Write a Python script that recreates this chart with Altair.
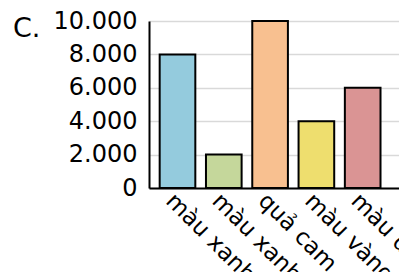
import altair as alt
import pandas as pd

categories = ["màu xanh dương", "màu xanh lá", "quả cam", "màu vàng", "màu đỏ"]
values = [8000, 2000, 10000, 4000, 6000]
colors = ["#94CBDD", "#C5D79B", "#F8C090", "#EEDE6E", "#DA9494"]
y_ticks = [0, 2000, 4000, 6000, 8000, 10000]

FONT = "DejaVu Sans"

df = pd.DataFrame({"cat": categories, "val": values})

chart = alt.Chart(df).mark_bar(stroke="black", strokeWidth=2).encode(
    x=alt.X(
        "cat:N", sort=categories, title=None,
        scale=alt.Scale(paddingInner=0.23, paddingOuter=0.315, align=0.366),
        axis=alt.Axis(labelAngle=45, labelFontSize=23, labelFont=FONT,
                      labelColor="black", ticks=False, domainColor="black",
                      domainWidth=2, labelPadding=1, labelLimit=0,
                      labelOverlap=False),
    ),
    y=alt.Y(
        "val:Q", title=None,
        scale=alt.Scale(domain=[0, 10000], nice=False),
        axis=alt.Axis(values=y_ticks,
                      labelExpr="replace(format(datum.value, ','), ',', '.')",
                      labelFontSize=24, labelFont=FONT, labelColor="black",
                      ticks=False, domainColor="black", domainWidth=2,
                      labelPadding=12, grid=True, gridColor="#d9d9d9", gridWidth=1.5,
                      labelOverlap=False, labelBound=False, labelFlush=False),
    ),
    color=alt.Color("cat:N", scale=alt.Scale(domain=categories, range=colors), legend=None),
).properties(
    width=250, height=167,
    padding={"left": 141, "top": 13, "right": 0, "bottom": 84},
    autosize="none",
    title=alt.TitleParams(text="C.", anchor="start", frame="group", dx=-136, dy=38,
                          fontSize=27, fontWeight="normal", font=FONT, color="black"),
).configure_view(stroke=None)

chart.save("out.html", embed_options={"renderer": "svg", "actions": False})
